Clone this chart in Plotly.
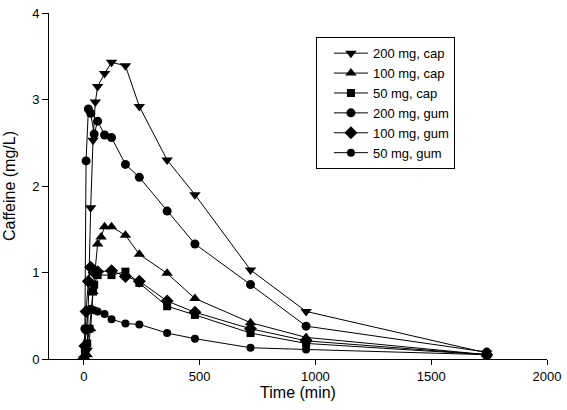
import plotly.graph_objects as go

# ---- data (time in min, caffeine in mg/L) ----
t_cap200 = [0, 15, 30, 40, 50, 60, 90, 120, 180, 240, 360, 480, 720, 960, 1740]
c_cap200 = [0, 0.10, 1.75, 2.53, 2.97, 3.15, 3.30, 3.43, 3.39, 2.92, 2.30, 1.90, 1.03, 0.55, 0.07]

t_cap100 = [0, 15, 30, 40, 60, 75, 90, 120, 180, 240, 360, 480, 720, 960, 1740]
c_cap100 = [0, 0.05, 0.35, 0.78, 1.33, 1.41, 1.53, 1.53, 1.43, 1.21, 0.99, 0.70, 0.42, 0.25, 0.05]

t_cap50 = [0, 5, 15, 25, 40, 45, 60, 120, 180, 240, 360, 480, 720, 960, 1740]
c_cap50 = [0, 0.08, 0.18, 0.35, 0.78, 0.86, 0.97, 0.97, 1.01, 0.88, 0.61, 0.51, 0.30, 0.18, 0.05]

t_gum200 = [0, 5, 10, 20, 30, 45, 60, 90, 120, 180, 240, 360, 480, 720, 960, 1740]
c_gum200 = [0, 0.35, 2.29, 2.89, 2.84, 2.60, 2.75, 2.59, 2.56, 2.25, 2.10, 1.71, 1.33, 0.86, 0.38, 0.08]

t_gum100 = [0, 5, 10, 20, 30, 45, 60, 120, 180, 240, 360, 480, 720, 960, 1740]
c_gum100 = [0, 0.15, 0.55, 0.90, 1.06, 1.00, 1.01, 1.02, 0.955, 0.90, 0.67, 0.54, 0.35, 0.21, 0.05]

t_gum50 = [0, 5, 10, 20, 30, 45, 60, 90, 120, 180, 240, 360, 480, 720, 960, 1740]
c_gum50 = [0, 0.10, 0.33, 0.56, 0.58, 0.565, 0.55, 0.52, 0.46, 0.41, 0.40, 0.30, 0.235, 0.13, 0.11, 0.05]

series = [
    ("200 mg, cap", t_cap200, c_cap200, "triangle-down", 10),
    ("100 mg, cap", t_cap100, c_cap100, "triangle-up", 10),
    ("50 mg, cap", t_cap50, c_cap50, "square", 8),
    ("200 mg, gum", t_gum200, c_gum200, "circle", 9),
    ("100 mg, gum", t_gum100, c_gum100, "diamond", 10),
    ("50 mg, gum", t_gum50, c_gum50, "circle", 8),
]

x_ticks = [0, 500, 1000, 1500, 2000]
y_ticks = [0, 1, 2, 3, 4]

FONT = "Liberation Sans, Arial, sans-serif"

fig = go.Figure()
for name, t, c, sym, sz in series:
    fig.add_trace(go.Scatter(
        x=t, y=c, name=name, mode="lines+markers",
        line=dict(color="black", width=1),
        marker=dict(symbol=sym, size=sz, color="black"),
    ))

fig.update_layout(
    width=567, height=410,
    margin=dict(l=49, r=16, t=6, b=51),
    paper_bgcolor="white", plot_bgcolor="white",
    font=dict(family=FONT, size=13, color="black"),
    showlegend=True,
    legend=dict(
        x=0.536, y=0.93, xanchor="left", yanchor="top",
        bordercolor="black", borderwidth=1, bgcolor="white",
        font=dict(family=FONT, size=13, color="black"),
        tracegroupgap=0, itemwidth=34, indentation=12,
    ),
)
fig.update_xaxes(
    range=[-150, 2000], tickvals=x_ticks, ticks="outside", ticklen=5,
    tickcolor="black", showline=True, linecolor="black", linewidth=1,
    showgrid=False, zeroline=False, ticklabeloverflow="allow",
    title=dict(text="Time (min)", font=dict(size=16), standoff=2),
    tickfont=dict(size=13),
)
fig.update_yaxes(
    range=[0, 4], tickvals=y_ticks, ticks="outside", ticklen=6,
    tickcolor="black", showline=True, linecolor="black", linewidth=1,
    showgrid=False, zeroline=False, ticklabeloverflow="allow",
    title=dict(text="Caffeine (mg/L)", font=dict(size=16), standoff=12),
    tickfont=dict(size=13),
)

fig.write_html("out.html", config={"displayModeBar": False},
               post_script="document.body.style.margin='0px';")
